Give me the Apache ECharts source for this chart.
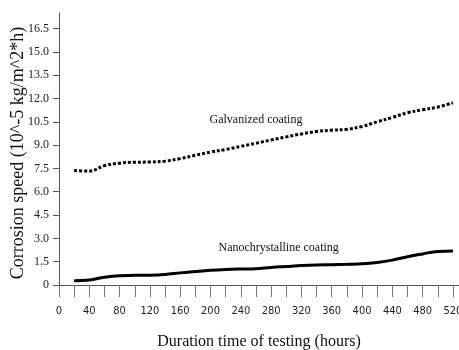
<!DOCTYPE html>
<html>
<head>
<meta charset="utf-8">
<script src="https://cdn.jsdelivr.net/npm/echarts@6/dist/echarts.min.js"></script>
<style>
  html, body { margin: 0; padding: 0; background: #fff; }
  #chart { width: 459px; height: 350px; }
</style>
</head>
<body>
<div id="chart"></div>
<script>
// duration of testing, hours
var hours = [20, 40, 60, 80, 100, 120, 140, 160, 180, 200, 220, 240, 260,
             280, 300, 320, 340, 360, 380, 400, 420, 440, 460, 480, 500, 520];
// corrosion speed, 10^-5 kg/m^2*h
var galvanized = [7.36, 7.33, 7.68, 7.84, 7.90, 7.91, 7.97, 8.13, 8.35, 8.55, 8.72, 8.92, 9.12,
                  9.33, 9.53, 9.72, 9.88, 9.96, 10.02, 10.20, 10.50, 10.78, 11.08, 11.27, 11.45, 11.72];
var nano = [0.28, 0.32, 0.50, 0.60, 0.62, 0.63, 0.68, 0.78, 0.87, 0.95, 1.00, 1.03, 1.05,
            1.13, 1.19, 1.25, 1.29, 1.31, 1.33, 1.36, 1.45, 1.60, 1.82, 2.00, 2.16, 2.18];

var xTicks = [0, 20, 40, 60, 80, 100, 120, 140, 160, 180, 200, 220, 240, 260,
              280, 300, 320, 340, 360, 380, 400, 420, 440, 460, 480, 500, 520];
var xLabels = [0, 40, 80, 120, 160, 200, 240, 280, 320, 360, 400, 440, 480, 520];
var yTicks = [0, 1.5, 3, 4.5, 6, 7.5, 9, 10.5, 12, 13.5, 15, 16.5];

function pairs(xs, ys) {
  return xs.map(function (x, i) { return [x, ys[i]]; });
}

var chart = echarts.init(document.getElementById('chart'));
chart.setOption({
  animation: false,
  grid: { left: 59, right: 0, top: 13, bottom: 65, outerBoundsMode: 'none', containLabel: false },
  xAxis: {
    type: 'value',
    min: 0,
    max: 528,
    name: 'Duration time of testing (hours)',
    nameLocation: 'middle',
    nameGap: 49,
    nameMoveOverlap: false,
    nameTextStyle: { fontFamily: 'Liberation Serif', fontSize: 16, color: '#111' },
    axisLine: { lineStyle: { color: '#555', width: 1 } },
    axisTick: { customValues: xTicks, length: 12, lineStyle: { color: '#777' } },
    axisLabel: {
      customValues: xLabels,
      margin: 21,
      fontFamily: "'Liberation Sans Narrow', 'DejaVu Sans Condensed', sans-serif",
      fontSize: 11,
      color: '#222'
    },
    splitLine: { show: false }
  },
  yAxis: {
    type: 'value',
    min: 0,
    max: 17.5,
    name: 'Corrosion speed (10^-5 kg/m^2*h)',
    nameLocation: 'middle',
    nameGap: 32,
    nameMoveOverlap: false,
    nameTextStyle: { fontFamily: 'Liberation Serif', fontSize: 18, color: '#111', padding: [0, 8, 0, 0] },
    axisLine: { show: true, lineStyle: { color: '#555', width: 1 } },
    axisTick: { show: true, customValues: yTicks, length: 6, lineStyle: { color: '#555' } },
    axisLabel: {
      customValues: yTicks,
      margin: 10,
      fontFamily: 'Liberation Serif',
      fontSize: 12,
      color: '#222',
      formatter: function (v) { return v === 0 ? '0' : v.toFixed(1); }
    },
    splitLine: { show: false }
  },
  series: [{
    name: 'Galvanized coating',
    type: 'line',
    smooth: 0.4,
    symbol: 'none',
    data: pairs(hours, galvanized),
    lineStyle: { color: '#000', width: 3, type: [3, 2] },
    markPoint: {
      symbol: 'circle',
      symbolSize: 0,
      label: { show: true, formatter: '{b}', fontFamily: 'Liberation Serif', fontSize: 12, color: '#111' },
      data: [{ name: 'Galvanized coating', coord: [260, 10.63] }]
    }
  }, {
    name: 'Nanochrystalline coating',
    type: 'line',
    smooth: 0.4,
    symbol: 'none',
    data: pairs(hours, nano),
    lineStyle: { color: '#000', width: 3 },
    markPoint: {
      symbol: 'circle',
      symbolSize: 0,
      label: { show: true, formatter: '{b}', fontFamily: 'Liberation Serif', fontSize: 12, color: '#111' },
      data: [{ name: 'Nanochrystalline coating', coord: [290, 2.38] }]
    }
  }]
});
</script>
</body>
</html>
